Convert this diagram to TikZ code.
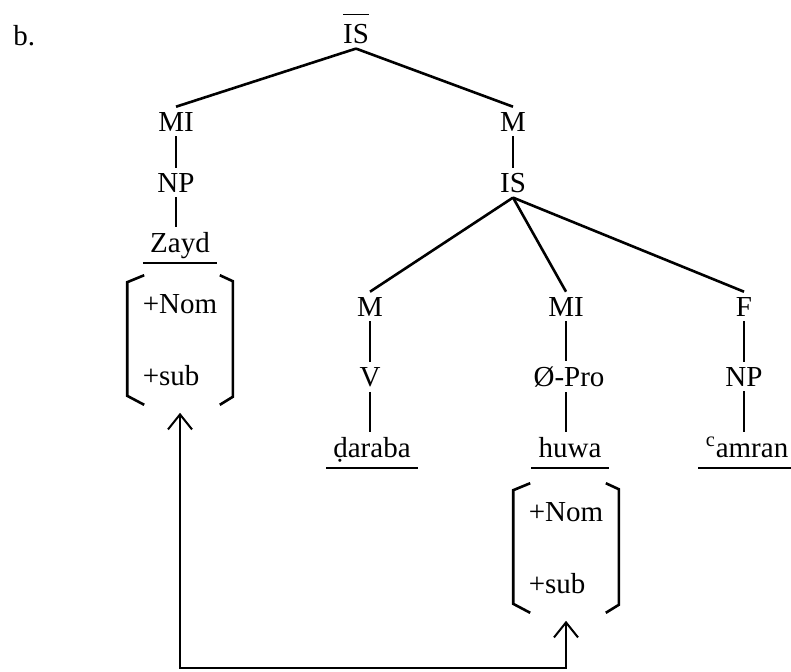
\documentclass[tikz,border=0pt]{standalone}
\usepackage{fontspec}
\setmainfont{Liberation Serif}
\usetikzlibrary{arrows.meta}

\begin{document}
\begin{tikzpicture}[x=0.5pt,y=-0.5pt,line width=1.3pt,
  every node/.style={font=\fontsize{14.5}{17.4}\selectfont,inner sep=2pt},
  >={Straight Barb[length=7.5pt,width=12pt]},
  word/.style={anchor=base,inner xsep=3pt},
  feat/.style={align=left,minimum width=51.5pt,minimum height=63.5pt,inner sep=0pt},
  uline/.style={line width=1.1pt}]

\useasboundingbox (0,0) rectangle (791,671);

\node[anchor=base west] (label) at (8,45) {b.};

% upper part of the tree
\node[anchor=base] (isbar) at (356,43) {$\overline{\hbox{IS}\rule{0pt}{13pt}}$};
\node[anchor=base] (mi) at (176,131) {MI};
\node[anchor=base] (np) at (176,192) {NP};
\node[word] (zayd) at (180,252) {Zayd};
\node[feat] (zfeat) at (180,340) {+Nom\\[18.6pt]+sub};

\node[anchor=base] (m) at (513,131) {M};
\node[anchor=base] (is) at (513,192) {IS};

% the three daughters of IS
\node[anchor=base] (mv) at (370,316) {M};
\node[anchor=base] (v) at (370,386) {V};
\node[word] (daraba) at (372,457) {\d{d}araba};

\node[anchor=base] (mipro) at (566,316) {MI};
\node[anchor=base] (pro) at (569,386) {Ø-Pro};
\node[word] (huwa) at (570,457) {huwa};
\node[feat] (hfeat) at (566,548) {+Nom\\[18.6pt]+sub};

\node[anchor=base] (f) at (744,316) {F};
\node[anchor=base] (npf) at (744,386) {NP};
\node[word] (camran) at (747,457) {\textsuperscript{c}amran};

\draw (isbar.south) -- (mi.north);
\draw (isbar.south) -- (m.north);
\draw (mi.south) -- (np.north);
\draw (np.south) -- (np.south |- zayd.north);
\draw (m.south) -- (is.north);

\draw (is.south) -- (mv.north);
\draw (is.south) -- (mipro.north);
\draw (is.south) -- (f.north);

\draw (mv.south) -- (v.north);
\draw (v.south) -- (v.south |- daraba.north);
\draw (mipro.south) -- (mipro.south |- pro.north);
\draw (mipro.south |- pro.south) -- (mipro.south |- huwa.north);
\draw (f.south) -- (npf.north);
\draw (npf.south) -- (npf.south |- camran.north);

\foreach \w in {zayd,daraba,huwa,camran} {
	\draw[uline] ([yshift=-5.5pt]\w.base west) -- ([yshift=-5.5pt]\w.base east);
}

\foreach \f in {zfeat,hfeat} {
	\draw ([xshift=8.5pt]\f.north west) -- ([yshift=-3.5pt]\f.north west) -- ([yshift=4.5pt]\f.south west) -- ([xshift=8.5pt]\f.south west);
	\draw ([xshift=-6.5pt]\f.north east) -- ([yshift=-3pt]\f.north east) -- ([yshift=4pt]\f.south east) -- ([xshift=-6.5pt]\f.south east);
}

\coordinate (bottom) at (0,668);
\draw[<->,line width=1pt] ([yshift=-4pt]zfeat.south) -- (zfeat.south |- bottom) -- (hfeat.south |- bottom) -- ([yshift=-4pt]hfeat.south);

\end{tikzpicture}
\end{document}
